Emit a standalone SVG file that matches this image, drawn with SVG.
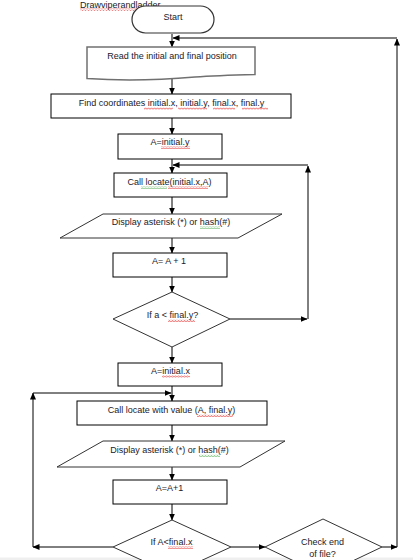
<svg xmlns="http://www.w3.org/2000/svg" width="413" height="560" viewBox="0 0 413 560">
<style>
text{font-family:"Liberation Sans",Arial,sans-serif;font-size:9px;fill:#1a1a2a;text-anchor:middle}
.box{fill:#fff;stroke:#000;stroke-width:1}
.shape{fill:#fff;stroke:#333;stroke-width:1}
.con{fill:none;stroke:#000;stroke-width:1}
.sqr{fill:url(#sqr)}
.sqg{fill:url(#sqg)}
</style>
<defs>
<marker id="ah" markerWidth="7" markerHeight="6" refX="6.5" refY="3" orient="auto" markerUnits="userSpaceOnUse">
<path d="M0,0 L7,3 L0,6 Z" fill="#000"/>
</marker>
<pattern id="sqr" width="3" height="2.5" patternUnits="userSpaceOnUse">
<path d="M0,2 L1.5,0.5 L3,2" fill="none" stroke="#e00000" stroke-width="0.7"/>
</pattern>
<pattern id="sqg" width="3" height="2.5" patternUnits="userSpaceOnUse">
<path d="M0,2 L1.5,0.5 L3,2" fill="none" stroke="#2a9a2a" stroke-width="0.7"/>
</pattern>
</defs>
<rect x="0" y="0" width="413" height="560" fill="#fff"/>
<rect x="0" y="557.5" width="413" height="2.5" fill="#efefef"/>

<g id="title">
<text x="80" y="8" style="text-anchor:start">Drawviperandladder</text>
<rect class="sqr" x="80" y="8.5" width="80" height="2.5"/>
</g>

<g id="connectors">
<line class="con" x1="172" y1="34" x2="172" y2="47" marker-end="url(#ah)"/>
<line class="con" x1="172" y1="78" x2="172" y2="94" marker-end="url(#ah)"/>
<line class="con" x1="172" y1="118" x2="172" y2="134" marker-end="url(#ah)"/>
<line class="con" x1="172" y1="159" x2="172" y2="173" marker-end="url(#ah)"/>
<line class="con" x1="172" y1="197" x2="172" y2="214" marker-end="url(#ah)"/>
<line class="con" x1="172" y1="238" x2="172" y2="253" marker-end="url(#ah)"/>
<line class="con" x1="172" y1="277" x2="172" y2="292" marker-end="url(#ah)"/>
<line class="con" x1="172" y1="347" x2="172" y2="363" marker-end="url(#ah)"/>
<line class="con" x1="172" y1="386" x2="172" y2="401" marker-end="url(#ah)"/>
<line class="con" x1="172" y1="425" x2="172" y2="441" marker-end="url(#ah)"/>
<line class="con" x1="172" y1="467" x2="172" y2="480" marker-end="url(#ah)"/>
<line class="con" x1="172" y1="504" x2="172" y2="520" marker-end="url(#ah)"/>
<!-- loop 1 -->
<line class="con" x1="230" y1="319" x2="307" y2="319" marker-end="url(#ah)"/>
<line class="con" x1="308" y1="319" x2="308" y2="166" marker-end="url(#ah)"/>
<line class="con" x1="308" y1="165" x2="173" y2="165" marker-end="url(#ah)"/>
<!-- loop 2 -->
<line class="con" x1="113" y1="547" x2="33" y2="547" marker-end="url(#ah)"/>
<line class="con" x1="33" y1="547" x2="33" y2="393" marker-end="url(#ah)"/>
<line class="con" x1="33" y1="393" x2="171" y2="393" marker-end="url(#ah)"/>
<!-- to check end of file -->
<line class="con" x1="231" y1="547" x2="265" y2="547" marker-end="url(#ah)"/>
<!-- outer loop -->
<line class="con" x1="382" y1="547" x2="397" y2="547" marker-end="url(#ah)"/>
<line class="con" x1="397" y1="547" x2="397" y2="39" marker-end="url(#ah)"/>
<line class="con" x1="397" y1="38" x2="173" y2="38" marker-end="url(#ah)"/>
</g>

<g id="start">
<rect x="132" y="6" width="82" height="27" rx="13.5" fill="#fff" stroke="#333" stroke-width="1.2"/>
<text x="173" y="20">Start</text>
</g>

<g id="read">
<path d="M87,47 H255 V74.5 C235,75 215,75.5 195,77 C160,80 130,81.5 87,78.5 Z" fill="#fff" stroke="#707070" stroke-width="1.5"/>
<text x="172" y="59">Read the initial and final position</text>
</g>

<g id="find">
<rect class="box" x="51" y="94" width="240" height="24"/>
<text x="171.5" y="106">Find coordinates initial.x, initial.y, final.x, final.y</text>
<rect class="sqr" x="144" y="107.5" width="29" height="2.5"/>
<rect class="sqr" x="178" y="107.5" width="29" height="2.5"/>
<rect class="sqr" x="213" y="107.5" width="22" height="2.5"/>
<rect class="sqr" x="242" y="107.5" width="26" height="2.5"/>
</g>

<g id="a-init-y">
<rect class="box" x="118" y="134" width="104" height="25"/>
<text x="170" y="145">A=initial.y</text>
<rect class="sqr" x="161" y="146.5" width="29" height="2.5"/>
</g>

<g id="call-locate">
<rect class="box" x="114" y="173" width="113" height="24"/>
<text x="169.5" y="185">Call locate(initial.x,A)</text>
<rect class="sqg" x="141" y="186.5" width="26" height="2.5"/>
<rect class="sqr" x="168" y="186.5" width="40" height="2.5"/>
</g>

<g id="display1">
<polygon class="shape" points="103,214 282,214 238,238 60,238"/>
<text x="171" y="225">Display asterisk (*) or hash(#)</text>
<rect class="sqg" x="200" y="226.5" width="20" height="2.5"/>
</g>

<g id="inc1">
<rect class="box" x="113" y="253" width="114" height="24"/>
<text x="169" y="264">A= A + 1</text>
</g>

<g id="cond1">
<polygon class="shape" points="172,292 230,319 172,347 113,319"/>
<text x="172.5" y="318">If a &lt; final.y?</text>
<rect class="sqr" x="168" y="319.5" width="27" height="2.5"/>
</g>

<g id="a-init-x">
<rect class="box" x="118" y="363" width="104" height="23"/>
<text x="170.5" y="374">A=initial.x</text>
<rect class="sqr" x="162" y="375.5" width="28" height="2.5"/>
</g>

<g id="call-locate2">
<rect class="box" x="77" y="401" width="190" height="24"/>
<text x="171.5" y="413">Call locate with value (A, final.y)</text>
<rect class="sqr" x="197" y="414.5" width="36" height="2.5"/>
</g>

<g id="display2">
<polygon class="shape" points="103,441 285,441 240,467 57,467"/>
<text x="169.5" y="453">Display asterisk (*) or hash(#)</text>
<rect class="sqg" x="199" y="454.5" width="21" height="2.5"/>
</g>

<g id="inc2">
<rect class="box" x="113" y="480" width="114" height="24"/>
<text x="169.5" y="491">A=A+1</text>
</g>

<g id="cond2">
<polygon class="shape" points="172,520 231,547 172,574 113,547"/>
<text x="171.5" y="545">If A&lt;final.x</text>
<rect class="sqr" x="168" y="546.5" width="25" height="2.5"/>
</g>

<g id="check-eof">
<polygon class="shape" points="323,519 382,547 323,575 265,547"/>
<text x="322.5" y="545">Check end</text>
<text x="322.5" y="557">of file?</text>
</g>
</svg>
